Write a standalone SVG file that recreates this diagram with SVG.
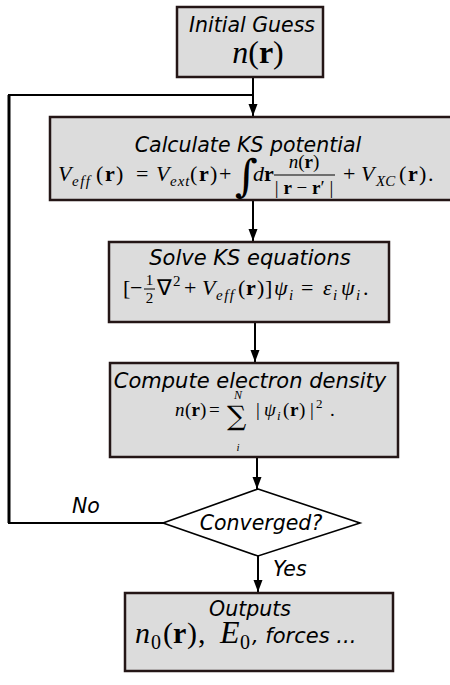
<svg xmlns="http://www.w3.org/2000/svg" width="450" height="685" viewBox="0 0 450 685">
<defs>
<style>
.box{fill:#dcdcdc;stroke:#241616;stroke-width:2.5}
.dia{fill:#ffffff;stroke:#000;stroke-width:1.6}
.ln{fill:none;stroke:#000;stroke-width:2}
.t{font-family:"DejaVu Sans",Verdana,sans-serif;font-style:italic;font-size:20.5px;fill:#000}
.m{font-family:"Liberation Serif","Times New Roman",serif;font-size:22px;fill:#000}
.big{font-family:"DejaVu Serif",serif}
.i{font-style:italic}
.b{font-weight:bold}
.s{font-size:15px;font-style:italic}
</style>
<marker id="ah" markerWidth="12" markerHeight="10" refX="12" refY="4.5" orient="auto" markerUnits="userSpaceOnUse">
<path d="M0,0 L12,4.5 L0,9 Z" fill="#000"/>
</marker>
</defs>
<rect width="450" height="685" fill="#fff"/>
<g id="connectors">
<polyline class="ln" points="163,523 9,523 9,95 253,95"/>
<line class="ln" x1="9" y1="95" x2="9" y2="523" style="stroke-width:3"/>
<line class="ln" x1="253" y1="77" x2="253" y2="116" marker-end="url(#ah)"/>
<line class="ln" x1="253" y1="200" x2="253" y2="241" marker-end="url(#ah)"/>
<line class="ln" x1="255" y1="322" x2="255" y2="362" marker-end="url(#ah)"/>
<line class="ln" x1="257" y1="457" x2="257" y2="489" marker-end="url(#ah)"/>
<line class="ln" x1="258" y1="556" x2="258" y2="592" marker-end="url(#ah)"/>
<text class="t" x="72" y="513">No</text>
<text class="t" x="273" y="576">Yes</text>
</g>
<g id="initial">
<rect class="box" x="177" y="7" width="146" height="70"/>
<text class="t" x="252" y="32" text-anchor="middle">Initial Guess</text>
<text class="m" x="258" y="63" text-anchor="middle" style="font-size:32px"><tspan class="i">n</tspan>(<tspan class="b">r</tspan>)</text>
</g>
<g id="calculate">
<rect class="box" x="50" y="117" width="410" height="83"/>
<text class="t" x="248" y="152" text-anchor="middle">Calculate KS potential</text>
<text class="m"><tspan class="i" x="58" y="181">V</tspan><tspan class="s" x="72" y="186" letter-spacing="1.5">eff</tspan><tspan x="96" y="181">(</tspan><tspan class="b" x="105" y="181">r</tspan><tspan x="116" y="181">)</tspan><tspan x="136" y="181">=</tspan><tspan class="i" x="156" y="181">V</tspan><tspan class="s" x="170" y="186" letter-spacing="1">ext</tspan><tspan x="190" y="181">(</tspan><tspan class="b" x="199" y="181">r</tspan><tspan x="210" y="181">)</tspan><tspan x="219" y="181">+</tspan></text>
<text class="m big" x="235" y="191" style="font-size:44px">∫</text>
<text class="m"><tspan class="i" x="253" y="181">d</tspan><tspan class="b" x="264" y="181">r</tspan></text>
<text class="m" x="304" y="168" text-anchor="middle" style="font-size:19px"><tspan class="i">n</tspan>(<tspan class="b">r</tspan>)</text>
<line x1="274" y1="175" x2="335" y2="175" stroke="#000" stroke-width="1"/>
<text class="m" x="304" y="194" text-anchor="middle" style="font-size:19px">| <tspan class="b">r</tspan> − <tspan class="b">r</tspan>′ |</text>
<text class="m"><tspan x="343" y="181">+</tspan><tspan class="i" x="361" y="181">V</tspan><tspan class="s" x="376" y="186">XC</tspan><tspan x="399" y="181">(</tspan><tspan class="b" x="408" y="181">r</tspan><tspan x="419" y="181">)</tspan><tspan x="428" y="181">.</tspan></text>
</g>
<g id="solve">
<rect class="box" x="109" y="242" width="280" height="80"/>
<text class="t" x="250" y="265" text-anchor="middle" style="font-size:21px">Solve KS equations</text>
<text class="m"><tspan x="123" y="295">[</tspan><tspan x="130" y="295">−</tspan></text>
<text class="m" x="149.5" y="285" text-anchor="middle" style="font-size:15px">1</text>
<line x1="144" y1="289" x2="155" y2="289" stroke="#000" stroke-width="1"/>
<text class="m" x="149.5" y="303" text-anchor="middle" style="font-size:15px">2</text>
<text class="m"><tspan x="157" y="295">∇</tspan><tspan x="173" y="286" font-size="15">2</tspan><tspan x="184" y="295">+</tspan><tspan class="i" x="202" y="295">V</tspan><tspan class="s" x="216" y="300" letter-spacing="1.5">eff</tspan><tspan x="238" y="295">(</tspan><tspan class="b" x="246" y="295">r</tspan><tspan x="257" y="295">)</tspan><tspan x="265" y="295">]</tspan><tspan class="i" x="274" y="295">ψ</tspan><tspan class="s" x="289" y="300">i</tspan><tspan x="301" y="295">=</tspan><tspan class="i" x="323" y="295">ε</tspan><tspan class="s" x="333" y="300">i</tspan><tspan class="i" x="341" y="295">ψ</tspan><tspan class="s" x="356" y="300">i</tspan><tspan x="363" y="295">.</tspan></text>
</g>
<g id="compute">
<rect class="box" x="110" y="363" width="288" height="94"/>
<text class="t" x="250" y="388" text-anchor="middle" style="font-size:21px">Compute electron density</text>
<text class="m" style="font-size:19px"><tspan class="i" x="175" y="416">n</tspan><tspan x="185" y="416">(</tspan><tspan class="b" x="191.5" y="416">r</tspan><tspan x="200" y="416">)</tspan><tspan x="209" y="416">=</tspan></text>
<text class="m big" x="227" y="425" style="font-size:27px">∑</text>
<text class="m i" x="238" y="399" text-anchor="middle" style="font-size:12px">N</text>
<text class="m i" x="238" y="451" text-anchor="middle" style="font-size:11px">i</text>
<text class="m" style="font-size:19px"><tspan x="256" y="416">|</tspan><tspan class="i" x="264" y="416">ψ</tspan><tspan class="i" x="277" y="420" font-size="13">i</tspan><tspan x="283" y="416">(</tspan><tspan class="b" x="290" y="416">r</tspan><tspan x="299" y="416">)</tspan><tspan x="310" y="416">|</tspan><tspan x="316" y="408" font-size="13">2</tspan><tspan x="330" y="416">.</tspan></text>
</g>
<g id="converged">
<polygon class="dia" points="258,489 360,523 258,556 163,523"/>
<text class="t" x="261" y="530" text-anchor="middle">Converged?</text>
</g>
<g id="outputs">
<rect class="box" x="125" y="593" width="268" height="78"/>
<text class="t" x="250" y="616" text-anchor="middle">Outputs</text>
<text class="m" style="font-size:30px"><tspan class="i" x="135" y="643">n</tspan><tspan x="151" y="649" font-size="20">0</tspan><tspan x="163" y="643">(</tspan><tspan class="b" x="173" y="643">r</tspan><tspan x="187" y="643">)</tspan><tspan x="198" y="643">,</tspan><tspan class="i" x="220" y="643" font-size="32">E</tspan><tspan x="240" y="649" font-size="20">0</tspan></text>
<text class="t" x="252" y="643" style="font-size:21px">, forces ...</text>
</g>
</svg>
